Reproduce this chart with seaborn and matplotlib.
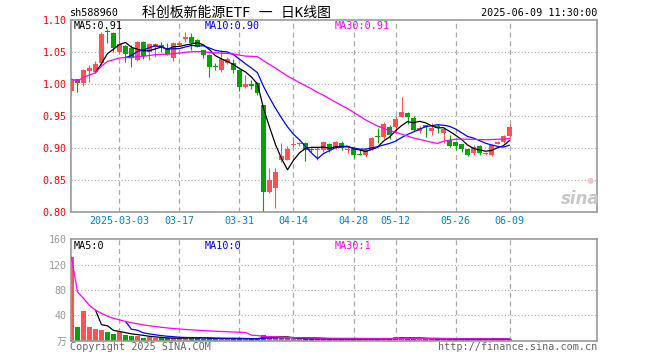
import numpy as np
import pandas as pd
import seaborn as sns
import matplotlib
matplotlib.use("Agg")
import matplotlib.pyplot as plt

# daily candles, 2025-02-19 .. 2025-06-09 (74 trading days)
opens = [0.990, 1.008, 1.0025, 1.021, 1.020, 1.033, 1.083, 1.080, 1.050, 1.060,
         1.057, 1.038, 1.066, 1.050, 1.059, 1.062, 1.056, 1.041, 1.061, 1.070,
         1.074, 1.069, 1.0536, 1.046, 1.028, 1.0224, 1.034, 1.033, 1.022, 0.9956,
         1.000, 1.0016, 0.967, 0.832, 0.8375, 0.882, 0.8825, 0.905, 0.906, 0.909,
         0.898, 0.8966, 0.898, 0.907, 0.9025, 0.909, 0.8975, 0.8985, 0.890, 0.8895,
         0.8975, 0.919, 0.9172, 0.9336, 0.9328, 0.9494, 0.9547, 0.9469, 0.927, 0.935,
         0.9275, 0.935, 0.9244, 0.913, 0.910, 0.9067, 0.899, 0.8931, 0.9035, 0.8910,
         0.8895, 0.9067, 0.9103, 0.919]
highs = [1.009, 1.009, 1.024, 1.030, 1.036, 1.082, 1.087, 1.082, 1.100, 1.061,
         1.061, 1.068, 1.067, 1.065, 1.064, 1.066, 1.064, 1.066, 1.068, 1.081,
         1.080, 1.070, 1.054, 1.047, 1.033, 1.0536, 1.042, 1.039, 1.023, 1.0145,
         1.007, 1.004, 0.968, 0.869, 0.869, 0.9078, 0.904, 0.917, 0.910, 0.910,
         0.901, 0.9036, 0.9117, 0.909, 0.9117, 0.911, 0.9035, 0.900, 0.899, 0.8985,
         0.917, 0.931, 0.9406, 0.9367, 0.950, 0.9797, 0.956, 0.950, 0.935, 0.936,
         0.939, 0.9375, 0.931, 0.9208, 0.910, 0.907, 0.8995, 0.905, 0.905, 0.894,
         0.906, 0.911, 0.920, 0.938]
lows = [0.981, 0.988, 0.998, 1.004, 1.018, 1.030, 1.064, 1.051, 1.049, 1.035,
        1.027, 1.036, 1.040, 1.038, 1.043, 1.050, 1.046, 1.037, 1.060, 1.066,
        1.054, 1.058, 1.0406, 1.012, 1.022, 1.0197, 1.032, 1.017, 0.990, 0.9938,
        0.993, 0.983, 0.801, 0.830, 0.806, 0.879, 0.881, 0.902, 0.904, 0.880,
        0.895, 0.881, 0.894, 0.895, 0.899, 0.897, 0.892, 0.8844, 0.889, 0.887,
        0.897, 0.908, 0.915, 0.914, 0.9266, 0.9484, 0.9375, 0.9276, 0.9245, 0.918,
        0.9208, 0.9245, 0.908, 0.9025, 0.8975, 0.8947, 0.888, 0.889, 0.889, 0.8895,
        0.8885, 0.906, 0.908, 0.9156]
closes = [1.008, 1.0025, 1.022, 1.026, 1.032, 1.079, 1.081, 1.056, 1.063, 1.048,
          1.041, 1.066, 1.044, 1.063, 1.063, 1.056, 1.048, 1.064, 1.065, 1.074,
          1.064, 1.059, 1.0458, 1.0275, 1.027, 1.039, 1.039, 1.022, 0.9962, 1.0006,
          0.998, 0.986, 0.832, 0.850, 0.8634, 0.888, 0.899, 0.906, 0.908, 0.898,
          0.897, 0.8975, 0.910, 0.897, 0.910, 0.900, 0.8995, 0.889, 0.8894, 0.897,
          0.9155, 0.917, 0.9375, 0.921, 0.9453, 0.9563, 0.9484, 0.9286, 0.9322, 0.934,
          0.9322, 0.9325, 0.930, 0.9036, 0.904, 0.899, 0.8895, 0.9025, 0.8931, 0.8931,
          0.905, 0.9103, 0.919, 0.9336]
volumes = [132, 22, 47, 22, 18.5, 17, 13.5, 10.5, 13.5, 9,
           7.5, 7.5, 4.5, 6, 4.5, 3.5, 3.5, 3.5, 5, 5.5,
           5.5, 3.5, 3, 4, 3, 3.5, 3, 3, 3.5, 3,
           3, 3.5, 9.5, 7.5, 5.5, 4, 3.5, 3, 2.5, 3,
           2.5, 3, 3, 2.5, 3, 2.5, 2.5, 3, 2.5, 2.5,
           3.5, 3, 3.5, 3, 5.5, 5.5, 4, 3.5, 3, 2.5,
           2.5, 2.5, 3, 3, 2.5, 2.5, 3, 2.5, 2.5, 2.5,
           3, 2.5, 2.5, 3]

tick_idx = [8, 18, 28, 37, 47, 54, 64, 73]
tick_labels = ['2025-03-03', '03-17', '03-31', '04-14', '04-28', '05-12', '05-26', '06-09']
price_levels = [0.80, 0.85, 0.90, 0.95, 1.00, 1.05, 1.10]
vol_levels = [0, 40, 80, 120, 160]
vol_tick_labels = ['万', '40', '80', '120', '160']

df = pd.DataFrame({'open': opens, 'high': highs, 'low': lows, 'close': closes, 'vol': volumes})
df['i'] = np.arange(len(df))
df['ma5'] = df['close'].rolling(5).mean()
df['ma10'] = df['close'].rolling(10).mean()
df['ma30'] = df['close'].rolling(30, min_periods=1).mean()
df['vma5'] = df['vol'].rolling(5).mean()
df['vma10'] = df['vol'].rolling(10).mean()
df['vma30'] = df['vol'].rolling(30, min_periods=1).mean()

RED = '#ff5353'
GREEN = '#00a300'
cols = np.where(df['close'] >= df['open'], RED, GREEN)

sns.set_theme(style="white")
plt.rcParams['font.family'] = ['DejaVu Sans Mono', 'Noto Sans CJK SC']

W, H = 660, 360
fig = plt.figure(figsize=(6.6, 3.6), dpi=100)


def px(x, y):
    return x / W, 1 - y / H


ax = fig.add_axes([71 / W, 1 - 212.3 / H, 526 / W, 192 / H])
axv = fig.add_axes([71 / W, 1 - 340.7 / H, 526 / W, 101.3 / H])

xlim = (-0.08, 87.58)
grid_c = '#aaaaaa'

# price panel
for lv in price_levels[1:-1]:
    ax.axhline(lv, color=grid_c, lw=0.8, ls=(0, (1, 2)), zorder=0)
for t in tick_idx:
    ax.axvline(t, color=grid_c, lw=0.9, ls=(0, (4, 3)), zorder=0)

ax.vlines(df['i'], df['low'], df['high'], colors=cols, lw=0.8, zorder=2)
body = np.maximum((df['close'] - df['open']).abs(), 0.002)
ax.bar(df['i'], body, bottom=np.minimum(df['open'], df['close']), width=0.72,
       color=cols, linewidth=0, zorder=3)

sns.lineplot(data=df, x='i', y='ma5', ax=ax, color='black', lw=0.9, estimator=None, zorder=4)
sns.lineplot(data=df, x='i', y='ma10', ax=ax, color='#0000ff', lw=0.9, estimator=None, zorder=4)
sns.lineplot(data=df, x='i', y='ma30', ax=ax, color='#ff00ff', lw=0.9, estimator=None, zorder=4)

ax.set_xlim(*xlim)
ax.set_ylim(0.80, 1.10)
ax.set_yticks(price_levels, [f'{v:.2f}' for v in price_levels])
ax.set_xticks(tick_idx, tick_labels)
ax.tick_params(axis='y', length=0, pad=3, labelsize=7.2, labelcolor='#ff0000')
ax.tick_params(axis='x', length=0, pad=3, labelsize=7.2, labelcolor='#0080d0')
ax.set_xlabel('')
ax.set_ylabel('')

# volume panel
for lv in vol_levels[1:-1]:
    axv.axhline(lv, color=grid_c, lw=0.8, ls=(0, (1, 2)), zorder=0)
for t in tick_idx:
    axv.axvline(t, color=grid_c, lw=0.9, ls=(0, (4, 3)), zorder=0)

axv.bar(df['i'], df['vol'], width=0.72, color=cols, linewidth=0, zorder=2)
sns.lineplot(data=df, x='i', y='vma5', ax=axv, color='black', lw=0.9, estimator=None, zorder=4)
sns.lineplot(data=df, x='i', y='vma10', ax=axv, color='#0000ff', lw=0.9, estimator=None, zorder=4)
sns.lineplot(data=df, x='i', y='vma30', ax=axv, color='#ff00ff', lw=0.9, estimator=None, zorder=4)

axv.set_xlim(*xlim)
axv.set_ylim(0, 160)
axv.set_yticks(vol_levels, vol_tick_labels)
axv.set_xticks([])
axv.tick_params(axis='y', length=0, pad=3, labelsize=7.2, labelcolor='#999999')
axv.set_xlabel('')
axv.set_ylabel('')

for a in (ax, axv):
    for s in a.spines.values():
        s.set_color('#999999')
        s.set_linewidth(1.2)

# texts
fs = 7.3
fig.text(*px(70, 13), 'sh588960', ha='left', va='center', fontsize=fs, color='black')
fig.text(*px(237, 13), '科创板新能源ETF 一 日K线图', ha='center', va='center', fontsize=10, color='black')
fig.text(*px(597, 13), '2025-06-09 11:30:00', ha='right', va='center', fontsize=fs, color='black')

fig.text(*px(74, 26), 'MA5:0.91', ha='left', va='center', fontsize=fs, color='black')
fig.text(*px(205, 26), 'MA10:0.90', ha='left', va='center', fontsize=fs, color='#0000ff')
fig.text(*px(335, 26), 'MA30:0.91', ha='left', va='center', fontsize=fs, color='#ff00ff')

fig.text(*px(74, 246), 'MA5:0', ha='left', va='center', fontsize=fs, color='black')
fig.text(*px(205, 246), 'MA10:0', ha='left', va='center', fontsize=fs, color='#0000ff')
fig.text(*px(335, 246), 'MA30:1', ha='left', va='center', fontsize=fs, color='#ff00ff')

fig.text(*px(70, 347), 'Copyright 2025 SINA.COM', ha='left', va='center', fontsize=fs, color='#666666')
fig.text(*px(597, 347), 'http://finance.sina.com.cn', ha='right', va='center', fontsize=fs, color='#666666')

fig.text(*px(580, 199), 'sina', ha='center', va='center', fontsize=12, color='#c8c8c8',
         fontweight='bold', style='italic', family='DejaVu Sans')
fig.text(*px(590, 181), '●', ha='center', va='center', fontsize=6, color='#f3c4c4', family='DejaVu Sans')

fig.savefig('out.png', dpi=100)
